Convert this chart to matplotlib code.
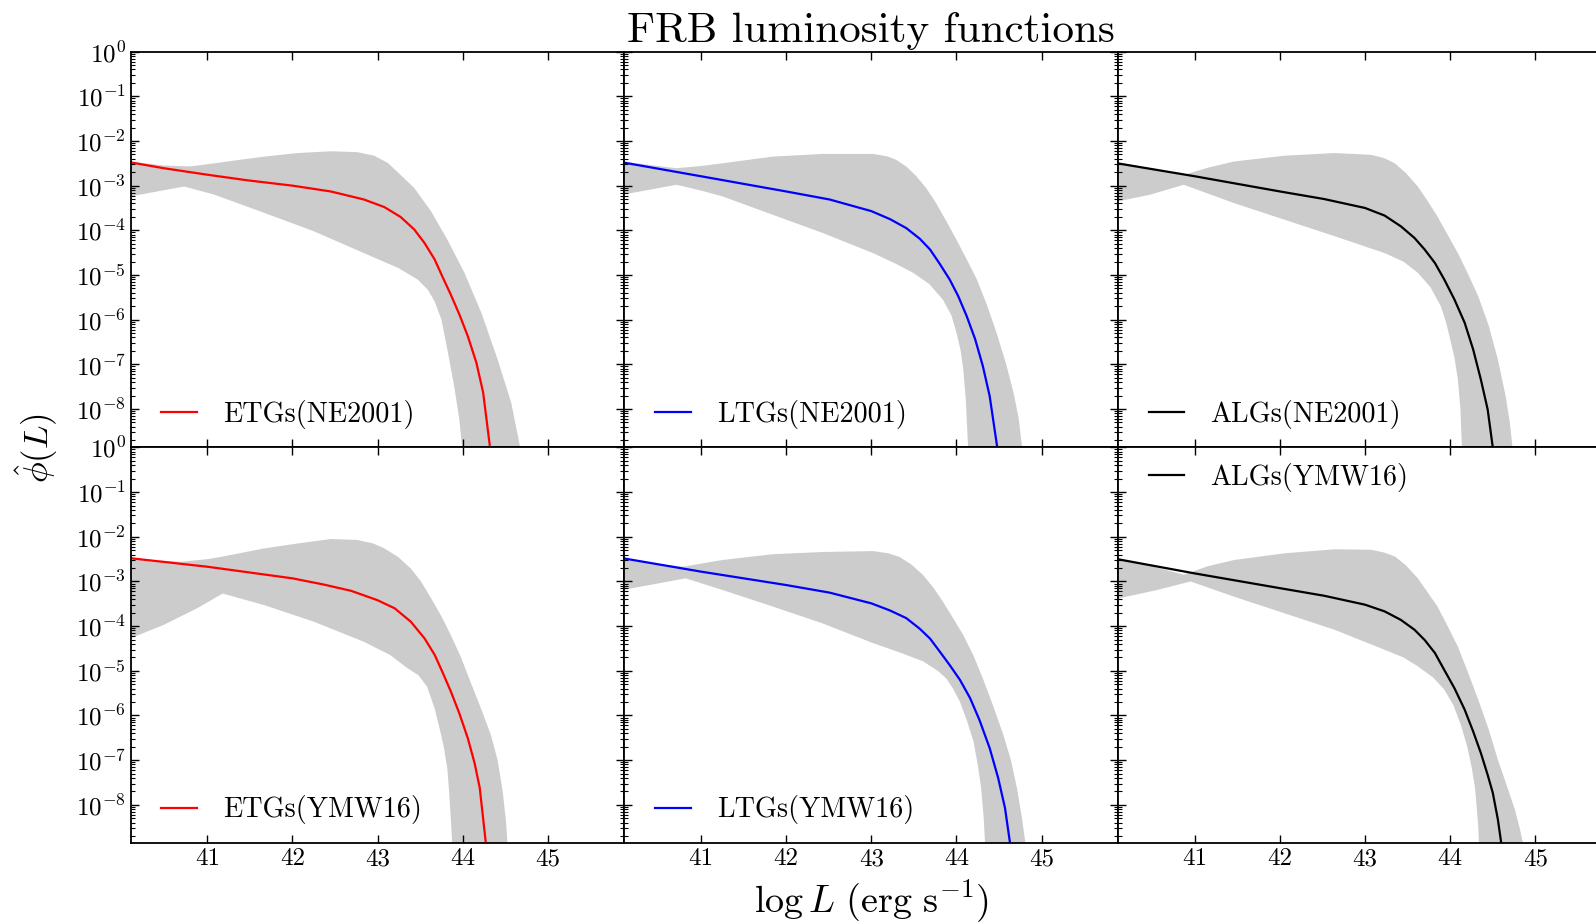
import numpy as np
import matplotlib
matplotlib.use("Agg")
import matplotlib.pyplot as plt
from matplotlib.ticker import LogLocator, NullFormatter, FixedLocator

plt.rcParams["font.family"] = "serif"
plt.rcParams["font.serif"] = ["cmr10", "DejaVu Serif"]
plt.rcParams["mathtext.fontset"] = "cm"
plt.rcParams["axes.unicode_minus"] = False
plt.rcParams["axes.formatter.use_mathtext"] = True

# values are log10(phi)
etg_ne_x = [40.10, 40.49, 41.0, 41.47, 42.0, 42.45, 42.84, 43.08, 43.27, 43.43, 43.55, 43.67, 43.76, 43.86, 43.96, 44.06, 44.16, 44.24, 44.33]
etg_ne_y = [-2.48, -2.61, -2.755, -2.88, -3.00, -3.13, -3.31, -3.48, -3.70, -3.98, -4.28, -4.65, -5.03, -5.44, -5.88, -6.37, -6.96, -7.63, -9.0]
etg_ne_up_x = [40.10, 40.49, 40.80, 41.08, 41.39, 41.67, 42.06, 42.45, 42.76, 42.96, 43.12, 43.27, 43.43, 43.63, 43.82, 44.02, 44.22, 44.41, 44.57, 44.69]
etg_ne_up_y = [-2.46, -2.55, -2.57, -2.50, -2.42, -2.35, -2.27, -2.23, -2.25, -2.33, -2.49, -2.76, -3.05, -3.58, -4.21, -4.95, -5.85, -6.89, -7.86, -9.0]
etg_ne_lo_x = [40.10, 40.41, 40.73, 41.08, 41.67, 42.25, 42.84, 43.24, 43.47, 43.59, 43.67, 43.75, 43.82, 43.90, 43.96, 44.0]
etg_ne_lo_y = [-3.24, -3.13, -3.02, -3.20, -3.61, -4.02, -4.51, -4.84, -5.10, -5.33, -5.59, -6.00, -6.67, -7.49, -8.23, -9.0]

ltg_ne_x = [40.08, 41.0, 42.0, 42.51, 43.0, 43.22, 43.41, 43.57, 43.69, 43.80, 43.92, 44.02, 44.12, 44.22, 44.31, 44.39, 44.49]
ltg_ne_y = [-2.48, -2.79, -3.13, -3.31, -3.57, -3.75, -3.95, -4.19, -4.43, -4.74, -5.10, -5.47, -5.92, -6.44, -7.04, -7.71, -9.0]
ltg_ne_up_x = [40.08, 40.45, 40.71, 41.0, 41.25, 41.84, 42.43, 43.02, 43.18, 43.29, 43.41, 43.53, 43.65, 43.76, 43.88, 44.0, 44.12, 44.24, 44.36, 44.47, 44.58, 44.67, 44.73, 44.78]
ltg_ne_up_y = [-2.46, -2.55, -2.61, -2.56, -2.50, -2.35, -2.29, -2.29, -2.34, -2.42, -2.57, -2.79, -3.07, -3.39, -3.79, -4.21, -4.65, -5.10, -5.68, -6.29, -6.97, -7.63, -8.2, -9.0]
ltg_ne_lo_x = [40.08, 40.4, 40.71, 41.0, 41.25, 41.84, 42.43, 43.02, 43.3, 43.49, 43.68, 43.84, 43.94, 44.0, 44.05, 44.08, 44.11, 44.14]
ltg_ne_lo_y = [-3.20, -3.09, -2.98, -3.11, -3.24, -3.65, -4.06, -4.51, -4.76, -4.95, -5.20, -5.55, -5.90, -6.29, -6.70, -7.11, -7.8, -9.0]

alg_ne_x = [40.09, 41.0, 42.0, 42.52, 43.0, 43.23, 43.42, 43.58, 43.70, 43.82, 43.93, 44.05, 44.17, 44.27, 44.36, 44.44, 44.51]
alg_ne_y = [-2.50, -2.79, -3.13, -3.30, -3.50, -3.67, -3.91, -4.17, -4.43, -4.73, -5.10, -5.55, -6.07, -6.67, -7.34, -8.01, -9.0]
alg_ne_up_x = [40.10, 40.5, 40.87, 41.15, 41.46, 42.05, 42.64, 43.07, 43.22, 43.35, 43.48, 43.62, 43.73, 43.85, 43.97, 44.09, 44.21, 44.33, 44.45, 44.56, 44.65, 44.70, 44.74]
alg_ne_up_y = [-2.48, -2.62, -2.76, -2.60, -2.46, -2.33, -2.27, -2.31, -2.38, -2.50, -2.72, -3.02, -3.33, -3.69, -4.10, -4.51, -4.98, -5.48, -6.12, -6.89, -7.7, -8.3, -9.0]
alg_ne_lo_x = [40.10, 40.48, 40.87, 41.46, 42.05, 42.64, 43.23, 43.45, 43.62, 43.77, 43.89, 43.95, 44.0, 44.05, 44.09, 44.12, 44.14]
alg_ne_lo_y = [-3.35, -3.20, -2.98, -3.39, -3.76, -4.13, -4.51, -4.70, -4.95, -5.28, -5.70, -6.05, -6.44, -6.85, -7.34, -8.0, -9.0]

etg_ymw_x = [40.10, 41.0, 42.0, 42.37, 42.69, 43.0, 43.20, 43.39, 43.55, 43.67, 43.76, 43.86, 43.96, 44.06, 44.14, 44.20, 44.28]
etg_ymw_y = [-2.48, -2.67, -2.93, -3.07, -3.21, -3.42, -3.60, -3.90, -4.27, -4.64, -5.02, -5.46, -5.95, -6.51, -7.07, -7.62, -9.0]
etg_ymw_up_x = [40.10, 40.4, 40.69, 41.0, 41.16, 41.67, 42.06, 42.45, 42.76, 42.95, 43.08, 43.24, 43.39, 43.51, 43.63, 43.75, 43.86, 43.98, 44.09, 44.21, 44.33, 44.41, 44.47, 44.51, 44.53]
etg_ymw_up_y = [-2.48, -2.53, -2.56, -2.50, -2.45, -2.26, -2.15, -2.05, -2.07, -2.15, -2.26, -2.45, -2.71, -3.00, -3.38, -3.78, -4.20, -4.70, -5.24, -5.82, -6.43, -7.0, -7.7, -8.4, -9.0]
etg_ymw_lo_x = [40.10, 40.49, 40.88, 41.18, 41.67, 42.25, 42.84, 43.15, 43.35, 43.48, 43.58, 43.67, 43.73, 43.78, 43.82, 43.84, 43.86, 43.88]
etg_ymw_lo_y = [-4.27, -3.97, -3.60, -3.27, -3.53, -3.90, -4.35, -4.65, -4.94, -5.10, -5.35, -5.84, -6.3, -6.73, -7.2, -7.70, -8.3, -9.0]

ltg_ymw_x = [40.08, 41.0, 42.0, 42.51, 43.0, 43.22, 43.41, 43.57, 43.69, 43.80, 43.92, 44.04, 44.16, 44.27, 44.39, 44.49, 44.57, 44.64]
ltg_ymw_y = [-2.48, -2.78, -3.08, -3.25, -3.49, -3.65, -3.82, -4.06, -4.28, -4.56, -4.87, -5.20, -5.61, -6.10, -6.73, -7.40, -8.07, -9.0]
ltg_ymw_up_x = [40.08, 40.45, 40.79, 41.0, 41.25, 41.84, 42.43, 43.02, 43.2, 43.33, 43.47, 43.61, 43.73, 43.84, 43.96, 44.08, 44.2, 44.31, 44.43, 44.55, 44.64, 44.71, 44.77, 44.82]
ltg_ymw_up_y = [-2.48, -2.60, -2.67, -2.60, -2.52, -2.39, -2.34, -2.32, -2.37, -2.45, -2.62, -2.86, -3.14, -3.45, -3.82, -4.20, -4.66, -5.17, -5.78, -6.43, -7.0, -7.62, -8.3, -9.0]
ltg_ymw_lo_x = [40.08, 40.45, 40.82, 41.25, 41.84, 42.43, 43.02, 43.35, 43.61, 43.78, 43.88, 43.96, 44.04, 44.12, 44.2, 44.25, 44.29, 44.32, 44.34]
ltg_ymw_lo_y = [-3.19, -3.06, -2.93, -3.19, -3.56, -3.94, -4.38, -4.60, -4.79, -5.00, -5.17, -5.40, -5.69, -6.10, -6.58, -7.10, -7.62, -8.3, -9.0]

alg_ymw_x = [40.09, 41.0, 42.0, 42.52, 43.0, 43.23, 43.42, 43.58, 43.70, 43.82, 43.93, 44.05, 44.17, 44.27, 44.36, 44.44, 44.50, 44.56, 44.61]
alg_ymw_y = [-2.50, -2.82, -3.15, -3.32, -3.52, -3.67, -3.86, -4.08, -4.31, -4.60, -4.98, -5.39, -5.87, -6.36, -6.84, -7.33, -7.73, -8.33, -9.0]
alg_ymw_up_x = [40.10, 40.5, 40.87, 41.15, 41.46, 42.05, 42.64, 43.07, 43.22, 43.35, 43.48, 43.62, 43.73, 43.85, 43.97, 44.09, 44.21, 44.33, 44.45, 44.56, 44.67, 44.76, 44.82, 44.87]
alg_ymw_up_y = [-2.48, -2.66, -2.85, -2.66, -2.52, -2.37, -2.28, -2.29, -2.35, -2.44, -2.64, -2.93, -3.23, -3.56, -4.00, -4.46, -5.04, -5.65, -6.30, -6.99, -7.6, -8.11, -8.55, -9.0]
alg_ymw_lo_x = [40.10, 40.56, 40.95, 41.46, 42.05, 42.64, 43.23, 43.45, 43.62, 43.8, 43.93, 44.04, 44.13, 44.2, 44.25, 44.29, 44.31, 44.33, 44.34]
alg_ymw_lo_y = [-3.38, -3.19, -3.00, -3.34, -3.71, -4.08, -4.53, -4.70, -4.90, -5.15, -5.42, -5.78, -6.24, -6.7, -7.14, -7.6, -8.03, -8.5, -9.0]

labels = ["ETGs(NE2001)", "LTGs(NE2001)", "ALGs(NE2001)",
          "ETGs(YMW16)", "LTGs(YMW16)", "ALGs(YMW16)"]
colors = ["r", "b", "k", "r", "b", "k"]
xticks = [41, 42, 43, 44, 45]
yticks = [1e0, 1e-1, 1e-2, 1e-3, 1e-4, 1e-5, 1e-6, 1e-7, 1e-8]
ytick_labels = [r"$10^{0}$", r"$10^{-1}$", r"$10^{-2}$", r"$10^{-3}$", r"$10^{-4}$",
                r"$10^{-5}$", r"$10^{-6}$", r"$10^{-7}$", r"$10^{-8}$"]

panels = [
    (etg_ne_x, etg_ne_y, etg_ne_up_x, etg_ne_up_y, etg_ne_lo_x, etg_ne_lo_y),
    (ltg_ne_x, ltg_ne_y, ltg_ne_up_x, ltg_ne_up_y, ltg_ne_lo_x, ltg_ne_lo_y),
    (alg_ne_x, alg_ne_y, alg_ne_up_x, alg_ne_up_y, alg_ne_lo_x, alg_ne_lo_y),
    (etg_ymw_x, etg_ymw_y, etg_ymw_up_x, etg_ymw_up_y, etg_ymw_lo_x, etg_ymw_lo_y),
    (ltg_ymw_x, ltg_ymw_y, ltg_ymw_up_x, ltg_ymw_up_y, ltg_ymw_lo_x, ltg_ymw_lo_y),
    (alg_ymw_x, alg_ymw_y, alg_ymw_up_x, alg_ymw_up_y, alg_ymw_lo_x, alg_ymw_lo_y),
]

fig, axes = plt.subplots(2, 3, figsize=(15.96, 9.22), dpi=100)
fig.subplots_adjust(left=0.0819, right=1.010, bottom=0.0854, top=0.944, wspace=0, hspace=0)

for i, ax in enumerate(axes.flat):
    x, y, ux, uy, lx, ly = panels[i]
    px = np.r_[ux, lx[::-1]]
    py = 10 ** np.r_[uy, ly[::-1]]
    ax.fill(px, py, color="0.8", lw=0)
    ax.semilogy(x, 10 ** np.array(y), color=colors[i], lw=1.6, label=labels[i])
    ax.set_xlim(40.1, 45.9)
    ax.set_ylim(10 ** -8.86, 1)
    ax.set_yscale("log")
    ax.yaxis.set_major_locator(FixedLocator(yticks))
    ax.yaxis.set_minor_locator(LogLocator(base=10, subs=np.arange(2, 10), numticks=100))
    ax.yaxis.set_minor_formatter(NullFormatter())
    ax.set_xticks(xticks)
    ax.tick_params(which="both", direction="in", top=True, right=True)
    ax.tick_params(which="major", length=6, width=1)
    ax.tick_params(which="minor", length=3, width=0.8)
    for s in ax.spines.values():
        s.set_linewidth(1.3)
    if i % 3 == 0:
        ax.set_yticklabels(ytick_labels, fontsize=18)
    else:
        ax.set_yticklabels([])
    if i >= 3:
        ax.set_xticklabels([str(t) for t in xticks], fontsize=18)
    else:
        ax.set_xticklabels([])
    if i == 5:
        ax.legend(loc="upper left", bbox_to_anchor=(0.039, 0.989), borderaxespad=0,
                  frameon=False, fontsize=20.3, handlelength=1.26, handletextpad=0.93)
    else:
        ax.legend(loc="lower left", bbox_to_anchor=(0.039, 0.019), borderaxespad=0,
                  frameon=False, fontsize=20.3, handlelength=1.26, handletextpad=0.93)

fig.text(0.546, 0.966, "FRB luminosity functions", ha="center", va="center", fontsize=31)
fig.text(0.546, 0.023, r"$\log L\ (\mathrm{erg\ s^{-1}})$", ha="center", va="center", fontsize=27.5)
fig.text(0.023, 0.514, r"$\hat{\phi}(L)$", ha="center", va="center", rotation=90, fontsize=25)

fig.savefig("out.png", dpi=100)
